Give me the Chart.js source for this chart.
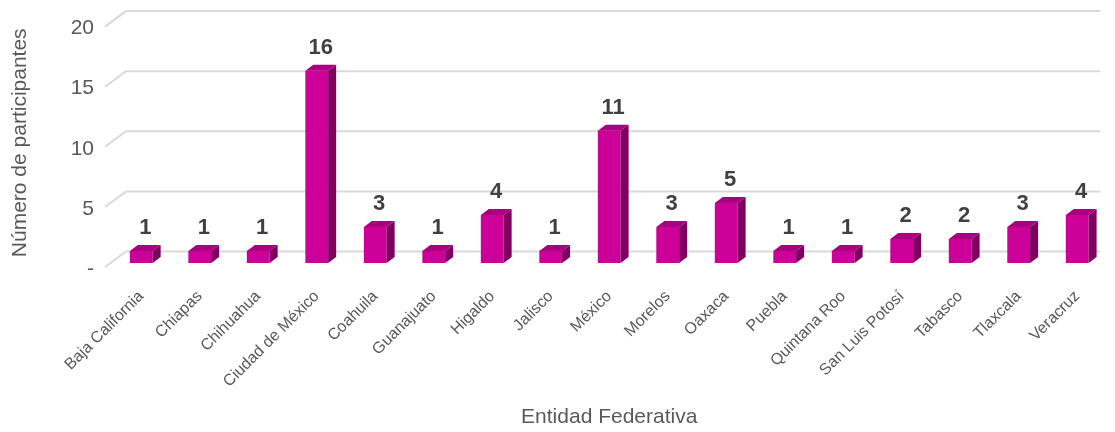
<!DOCTYPE html>
<html>
<head>
<meta charset="utf-8">
<script src="https://cdn.jsdelivr.net/npm/chart.js@4/dist/chart.umd.min.js"></script>
<style>
  html, body { margin: 0; padding: 0; background: #fff; }
  #wrap { width: 1115px; height: 432px; }
</style>
</head>
<body>
<div id="wrap"><canvas id="participantsChart"></canvas></div>
<script>
let estados = ["Baja California", "Chiapas", "Chihuahua", "Ciudad de México", "Coahuila",
  "Guanajuato", "Higaldo", "Jalisco", "México", "Morelos", "Oaxaca", "Puebla",
  "Quintana Roo", "San Luis Potosí", "Tabasco", "Tlaxcala", "Veracruz"];
let participantes = [1, 1, 1, 16, 3, 1, 4, 1, 11, 3, 5, 1, 1, 2, 2, 3, 4];
let yTicks = [0, 5, 10, 15, 20];

const narrow = "'Liberation Sans Narrow', 'Arial Narrow', 'Liberation Sans', Arial, sans-serif";
const frontColor = "#CC0099";
const sideColor = "#7E005F";
const topColor = "#A8007E";
const depthX = 8, depthY = 6;

// gridlines drawn as a 3D back wall with a slanted floor edge
const wallGrid = {
  id: "wallGrid",
  beforeDatasetsDraw(chart) {
    const ctx = chart.ctx, area = chart.chartArea, y = chart.scales.y;
    ctx.save();
    ctx.strokeStyle = "#D9D9D9";
    ctx.lineWidth = 2;
    yTicks.forEach(v => {
      const yf = y.getPixelForValue(v);
      ctx.beginPath();
      ctx.moveTo(area.left - 7, yf + 4);
      ctx.lineTo(area.left + 14, yf - 11.5);
      ctx.lineTo(area.right - 6, yf - 11.5);
      ctx.stroke();
    });
    ctx.restore();
  }
};

// top and side faces plus value labels
const bars3d = {
  id: "bars3d",
  afterDatasetsDraw(chart) {
    const ctx = chart.ctx;
    const meta = chart.getDatasetMeta(0);
    ctx.save();
    meta.data.forEach((bar, i) => {
      const p = bar.getProps(["x", "y", "base", "width"], true);
      const l = p.x - p.width / 2, r = p.x + p.width / 2;
      ctx.fillStyle = sideColor;
      ctx.beginPath();
      ctx.moveTo(r, p.y);
      ctx.lineTo(r + depthX, p.y - depthY);
      ctx.lineTo(r + depthX, p.base - depthY);
      ctx.lineTo(r, p.base);
      ctx.closePath();
      ctx.fill();
      ctx.fillStyle = topColor;
      ctx.beginPath();
      ctx.moveTo(l, p.y);
      ctx.lineTo(l + depthX, p.y - depthY);
      ctx.lineTo(r + depthX, p.y - depthY);
      ctx.lineTo(r, p.y);
      ctx.closePath();
      ctx.fill();

      ctx.fillStyle = "#404040";
      ctx.font = "bold 22px " + narrow;
      ctx.textAlign = "center";
      ctx.textBaseline = "middle";
      ctx.fillText(String(participantes[i]), p.x + 4, p.y - 23);
    });
    ctx.restore();
  }
};

new Chart("participantsChart", {
  type: "bar",
  data: {
    labels: estados,
    datasets: [
      {
        data: participantes,
        backgroundColor: frontColor,
        barPercentage: 0.39,
        categoryPercentage: 1,
      },
    ],
  },
  options: {
    responsive: true,
    maintainAspectRatio: false,
    animation: false,
    layout: { padding: { left: 8, right: 8, top: 21, bottom: 2 } },
    plugins: {
      legend: { display: false },
      tooltip: { enabled: false },
    },
    scales: {
      x: {
        grid: { display: false, drawTicks: false },
        border: { display: false },
        ticks: {
          color: "#595959",
          font: { family: narrow, size: 16 },
          minRotation: 45,
          maxRotation: 45,
          autoSkip: false,
          padding: 24,
        },
        title: {
          display: true,
          text: "Entidad Federativa",
          color: "#595959",
          font: { family: narrow, size: 21 },
          padding: { top: 0, bottom: 0 },
        },
        afterFit(scale) { scale.height = 167; },
      },
      y: {
        min: 0,
        max: 20,
        afterBuildTicks(scale) { scale.ticks = yTicks.map(v => ({ value: v })); },
        grid: { display: false },
        border: { display: false },
        ticks: {
          color: "#595959",
          font: { family: narrow, size: 21 },
          padding: 10,
          labelOffset: 6,
          callback: v => (v === 0 ? "-" : v),
        },
        title: {
          display: true,
          text: "Número de participantes",
          color: "#595959",
          font: { family: narrow, size: 21 },
          padding: { top: 0, bottom: 0 },
        },
        afterFit(scale) { scale.width = 104; },
      },
    },
  },
  plugins: [wallGrid, bars3d],
});
</script>
</body>
</html>
